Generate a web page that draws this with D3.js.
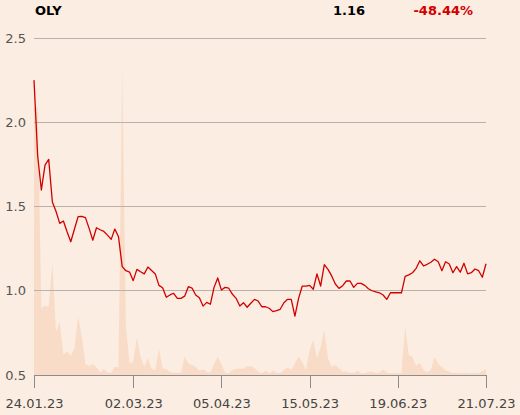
<!DOCTYPE html>
<html>
<head>
<meta charset="utf-8">
<script src="https://cdn.jsdelivr.net/npm/d3@7"></script>
<style>
  html, body { margin: 0; padding: 0; background: #fbede1; }
  svg { display: block; font-family: "DejaVu Sans", sans-serif; }
</style>
</head>
<body>
<svg id="chart" width="520" height="415"></svg>
<script>
const ticker = "OLY";
const lastPrice = "1.16";
const changePct = "-48.44%";

const prices = [
  2.25, 1.80, 1.598, 1.746, 1.78, 1.527, 1.47, 1.40, 1.414, 1.35,
  1.291, 1.365, 1.44, 1.442, 1.434, 1.37, 1.30, 1.374, 1.362, 1.352,
  1.33, 1.305, 1.366, 1.32, 1.143, 1.119, 1.111, 1.06, 1.127, 1.113,
  1.10, 1.141, 1.12, 1.10, 1.032, 1.018, 0.961, 0.975, 0.985, 0.955,
  0.955, 0.968, 1.024, 1.016, 0.975, 0.959, 0.909, 0.931, 0.920, 1.020,
  1.076, 1.004, 1.020, 1.015, 0.979, 0.955, 0.909, 0.929, 0.902, 0.926,
  0.949, 0.939, 0.905, 0.905, 0.896, 0.876, 0.882, 0.890, 0.929, 0.949,
  0.949, 0.850, 0.955, 1.028, 1.028, 1.032, 1.009, 1.10, 1.028, 1.155,
  1.127, 1.088, 1.04, 1.014, 1.030, 1.058, 1.058, 1.020, 1.044, 1.044,
  1.032, 1.012, 1.0, 0.993, 0.988, 0.975, 0.949, 0.988, 0.988, 0.988,
  0.988, 1.085, 1.094, 1.107, 1.133, 1.178, 1.147, 1.157, 1.169, 1.187,
  1.172, 1.119, 1.172, 1.159, 1.107, 1.143, 1.110, 1.163, 1.10, 1.107,
  1.129, 1.119, 1.080, 1.16
];

const volumes = [
  2060, 2068, 517, 535, 527, 862, 334, 411, 154, 185,
  147, 206, 455, 295, 85, 69, 85, 59, 21, 44,
  21, 18, 64, 59, 2374, 373, 90, 103, 288, 141,
  64, 129, 44, 39, 198, 52, 44, 25, 18, 18,
  18, 141, 90, 77, 64, 33, 44, 25, 18, 85,
  141, 85, 18, 13, 39, 49, 50, 46, 69, 67,
  56, 25, 13, 33, 13, 33, 18, 13, 39, 59,
  39, 90, 141, 103, 39, 193, 270, 131, 218, 347,
  129, 64, 77, 52, 25, 25, 18, 15, 33, 13,
  13, 25, 25, 15, 18, 44, 18, 13, 13, 13,
  18, 373, 154, 139, 69, 95, 39, 23, 39, 141,
  85, 62, 35, 25, 15, 18, 15, 18, 15, 13,
  15, 13, 31, 44
];

const dateTickIndex = [0, 27, 51, 75, 99, 123];
const dateTickLabels = ["24.01.23", "02.03.23", "05.04.23", "15.05.23", "19.06.23", "21.07.23"];
const priceTicks = [0.5, 1.0, 1.5, 2.0, 2.5];
const volumeMax = 2600;

const svg = d3.select("#chart");
const plotLeft = 34, plotRight = 486, plotTop = 38, plotBottom = 375;

const x = d3.scaleLinear().domain([0, prices.length - 1]).range([plotLeft, plotRight]);
const y = d3.scaleLinear().domain([0.5, 2.5]).range([plotBottom, plotTop]);
const yv = d3.scaleLinear().domain([0, volumeMax]).range([plotBottom, plotTop]);

// volume area
svg.append("path")
  .datum(volumes)
  .attr("fill", "#f8dcc7")
  .attr("d", d3.area().x((d, i) => x(i)).y0(plotBottom).y1(d => yv(d)));

// gridlines
svg.append("g").selectAll("line")
  .data(priceTicks.filter(t => t > 0.5))
  .join("line")
  .attr("x1", plotLeft).attr("x2", plotRight)
  .attr("y1", d => y(d)).attr("y2", d => y(d))
  .attr("stroke", "#bab2aa").attr("stroke-width", 1)
  .attr("shape-rendering", "crispEdges");

// y labels
svg.append("g").selectAll("text")
  .data(priceTicks)
  .join("text")
  .attr("x", 26).attr("y", d => y(d) + 4.5)
  .attr("text-anchor", "end")
  .attr("font-size", 13)
  .attr("fill", "#555")
  .text(d => d.toFixed(1));

// x axis
const xAxis = d3.axisBottom(x)
  .tickValues(dateTickIndex)
  .tickSize(13)
  .tickFormat((d, i) => dateTickLabels[i]);
const gx = svg.append("g").attr("transform", `translate(0,${plotBottom})`).call(xAxis);
gx.select(".domain").attr("stroke", "#8c8c8c").attr("shape-rendering", "crispEdges");
gx.selectAll(".tick line").attr("stroke", "#8c8c8c").attr("shape-rendering", "crispEdges");
gx.selectAll(".tick text")
  .attr("font-family", "DejaVu Sans, sans-serif")
  .attr("font-size", 13)
  .attr("fill", "#444")
  .attr("dy", null)
  .attr("y", 33);

// price line
svg.append("path")
  .datum(prices)
  .attr("fill", "none")
  .attr("stroke", "#d10000")
  .attr("stroke-width", 1.3)
  .attr("stroke-linejoin", "round")
  .attr("d", d3.line().x((d, i) => x(i)).y(d => y(d)));

// header
svg.append("text").attr("x", 35).attr("y", 14.5)
  .attr("font-size", 13).attr("font-weight", "bold").attr("fill", "#000").text(ticker);
svg.append("text").attr("x", 365).attr("y", 14.5).attr("text-anchor", "end")
  .attr("font-size", 13).attr("font-weight", "bold").attr("fill", "#000").text(lastPrice);
svg.append("text").attr("x", 473).attr("y", 14.5).attr("text-anchor", "end")
  .attr("font-size", 13).attr("font-weight", "bold").attr("fill", "#d10000").text(changePct);
</script>
</body>
</html>
